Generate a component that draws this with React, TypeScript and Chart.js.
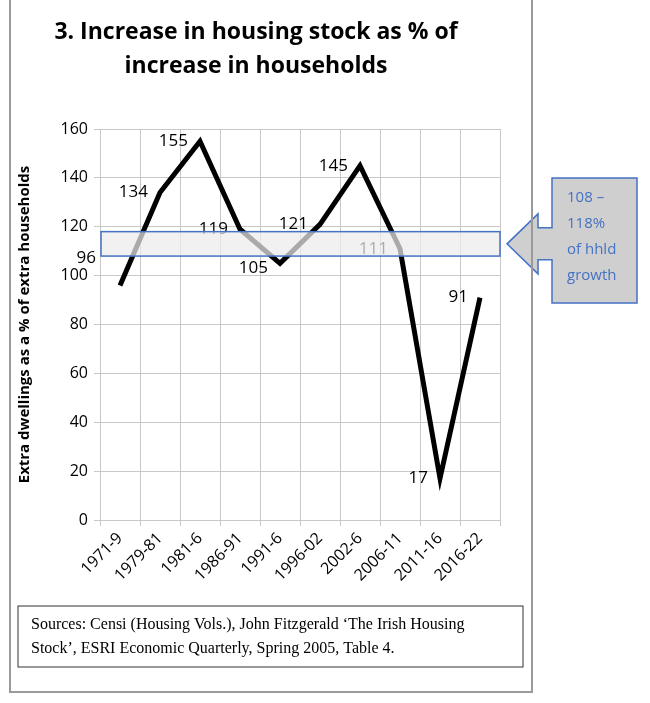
import React, { useEffect, useRef } from "react";
import { Chart, registerables } from "chart.js";
Chart.register(...registerables);

const categories = ["1971-9", "1979-81", "1981-6", "1986-91", "1991-6", "1996-02", "2002-6", "2006-11", "2011-16", "2016-22"];
const values = [96, 134, 155, 119, 105, 121, 145, 111, 17, 91];
const bandLow = 108;
const bandHigh = 118;
const calloutLines = ["108 –", "118%", "of hhld", "growth"];
const sourceLines = [
  "Sources: Censi (Housing Vols.), John Fitzgerald \u2018The Irish Housing",
  "Stock\u2019, ESRI Economic Quarterly, Spring 2005, Table 4.",
];

const deco = {
  id: "deco",
  afterDatasetsDraw(chart: any) {
    const { ctx, chartArea, scales } = chart;
    const y = scales.y;
    const x = scales.x;
    ctx.save();
    ctx.font = "17px 'Open Sans', Calibri, sans-serif";
    ctx.fillStyle = "#000";
    ctx.textAlign = "right";
    ctx.textBaseline = "middle";
    values.forEach((v, i) => {
      const px = x.getPixelForValue(i);
      const py = y.getPixelForValue(v);
      const dy = i === 0 ? -27 : i === 4 ? 5 : 0;
      const dx = i === 0 ? 24 : 12;
      ctx.fillText(String(v), px - dx, py + dy);
    });
    const top = y.getPixelForValue(bandHigh);
    const bot = y.getPixelForValue(bandLow);
    ctx.fillStyle = "rgba(235,235,235,0.72)";
    ctx.fillRect(chartArea.left + 1, top, chartArea.right - chartArea.left - 1, bot - top);
    ctx.strokeStyle = "#4472c4";
    ctx.lineWidth = 1.5;
    ctx.strokeRect(chartArea.left + 1, top, chartArea.right - chartArea.left - 1, bot - top);
    const mid = (top + bot) / 2;
    ctx.beginPath();
    ctx.moveTo(chartArea.right + 7, mid);
    ctx.lineTo(538, mid - 30);
    ctx.lineTo(538, mid - 16);
    ctx.lineTo(552, mid - 16);
    ctx.lineTo(552, 178);
    ctx.lineTo(637, 178);
    ctx.lineTo(637, 303);
    ctx.lineTo(552, 303);
    ctx.lineTo(552, mid + 16);
    ctx.lineTo(538, mid + 16);
    ctx.lineTo(538, mid + 30);
    ctx.closePath();
    ctx.fillStyle = "#d0cfd0";
    ctx.fill();
    ctx.stroke();
    ctx.fillStyle = "#4472c4";
    ctx.textAlign = "left";
    ctx.font = "15px 'Open Sans', Calibri, sans-serif";
    calloutLines.forEach((t, i) => ctx.fillText(t, 567, 198 + i * 26));
    ctx.strokeStyle = "#9a9a9a";
    ctx.lineWidth = 2;
    ctx.beginPath();
    ctx.moveTo(10, 0);
    ctx.lineTo(10, 692);
    ctx.lineTo(532, 692);
    ctx.lineTo(532, 0);
    ctx.stroke();
    ctx.strokeStyle = "#333";
    ctx.lineWidth = 1;
    ctx.strokeRect(18, 606, 505, 61);
    ctx.fillStyle = "#000";
    ctx.font = "16px 'Liberation Serif', 'Times New Roman', serif";
    sourceLines.forEach((t, i) => ctx.fillText(t, 31, 625 + i * 24));
    ctx.restore();
  },
};

export default function App() {
  const ref = useRef<HTMLCanvasElement>(null);
  useEffect(() => {
    const chart = new Chart(ref.current!, {
      type: "line",
      data: {
        labels: categories,
        datasets: [{ data: values, borderColor: "#000", borderWidth: 5, pointRadius: 0, tension: 0 }],
      },
      options: {
        animation: false,
        responsive: false,
        layout: { padding: { left: 12, right: 150, top: 0, bottom: 0 } },
        plugins: {
          legend: { display: false },
          tooltip: { enabled: false },
          title: {
            display: true,
            text: ["3. Increase in housing stock as % of", "increase in households"],
            color: "#000",
            font: { size: 23, weight: "bold", family: "'Open Sans', Calibri, sans-serif", lineHeight: 1.5 },
            padding: { top: 15, bottom: 45 },
          },
        },
        scales: {
          x: {
            offset: true,
            grid: { offset: true, color: "#c8c8c8", tickLength: 6 },
            border: { color: "#c8c8c8" },
            ticks: { color: "#000", maxRotation: 45, minRotation: 45, font: { size: 16, family: "'Open Sans', Calibri, sans-serif" } },
            afterFit: (s: any) => { s.height = 183; },
          },
          y: {
            min: 0,
            max: 160,
            ticks: { stepSize: 20, color: "#000", padding: 6, font: { size: 16, family: "'Open Sans', Calibri, sans-serif" } },
            grid: { color: "#c8c8c8", tickLength: 6 },
            border: { color: "#c8c8c8" },
            title: {
              display: true,
              text: "Extra dwellings as a % of extra households",
              color: "#000",
              font: { size: 15, weight: "bold", family: "'Open Sans', Calibri, sans-serif" },
            },
            afterFit: (s: any) => { s.width = 88; },
          },
        },
      },
      plugins: [deco],
    });
    return () => chart.destroy();
  }, []);
  return (
    <div style={{ position: "absolute", left: 0, top: 0, background: "#fff" }}>
      <canvas ref={ref} width={650} height={703} style={{ width: 650, height: 703, display: "block" }} />
    </div>
  );
}
